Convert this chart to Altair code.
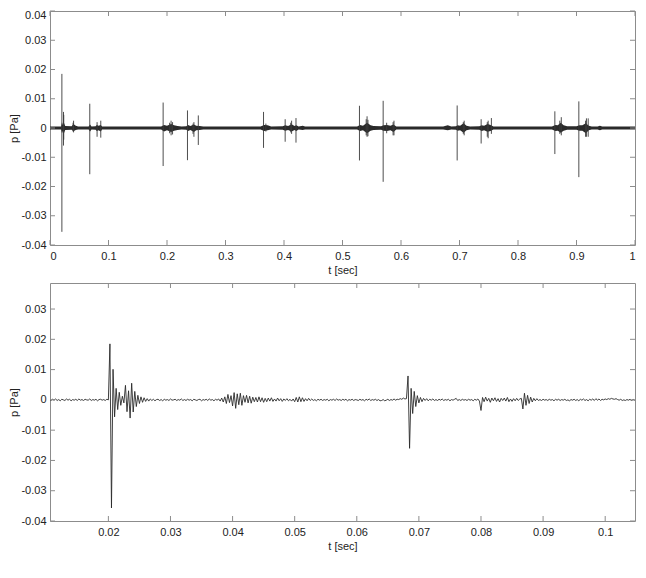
import altair as alt
import pandas as pd

UNIT = 1e-4  # all pressure values below are in units of 1e-4 Pa

# ---------- top panel (0 - 1 s overview) ----------
env_t = [0.000, 0.019, 0.0205, 0.022, 0.0235, 0.026, 0.037, 0.040, 0.044, 0.048,
         0.066, 0.0685, 0.071, 0.078, 0.080, 0.083, 0.0868, 0.089, 0.190, 0.195,
         0.200, 0.207, 0.212, 0.218, 0.225, 0.233, 0.236, 0.240, 0.246, 0.250,
         0.256, 0.262, 0.360, 0.366, 0.372, 0.378, 0.398, 0.402, 0.407, 0.413,
         0.418, 0.421, 0.425, 0.432, 0.436, 0.525, 0.530, 0.535, 0.542, 0.548,
         0.553, 0.566, 0.570, 0.576, 0.582, 0.587, 0.592, 0.672, 0.680, 0.686,
         0.694, 0.697, 0.701, 0.707, 0.712, 0.718, 0.734, 0.738, 0.742, 0.748,
         0.753, 0.758, 0.858, 0.864, 0.868, 0.873, 0.878, 0.884, 0.900, 0.905,
         0.910, 0.916, 0.921, 0.926, 0.936, 0.940, 0.944, 1.000]
env_hi = [5, 5, 20, 10, 20, 7, 6, 14, 8, 5,
          5, 12, 5, 6, 10, 8, 10, 5, 5, 10,
          8, 14, 9, 7, 5, 6, 10, 7, 12, 8,
          7, 5, 5, 10, 9, 5, 6, 9, 7, 13,
          7, 9, 5, 8, 5, 5, 10, 8, 18, 9,
          7, 6, 9, 10, 8, 12, 5, 5, 9, 5,
          6, 9, 8, 16, 8, 5, 6, 9, 8, 14,
          10, 5, 5, 10, 9, 18, 9, 6, 6, 9,
          9, 16, 8, 5, 5, 8, 5, 5]
env_lo = [-5, -5, -18, -10, -20, -7, -6, -11, -7, -5,
          -5, -12, -5, -6, -10, -8, -12, -5, -5, -12,
          -8, -14, -9, -7, -5, -6, -10, -7, -14, -8,
          -7, -5, -5, -10, -8, -5, -6, -9, -7, -12,
          -7, -10, -5, -7, -5, -5, -10, -8, -18, -9,
          -7, -6, -9, -10, -8, -14, -5, -5, -8, -5,
          -6, -9, -8, -16, -8, -5, -6, -10, -8, -13,
          -10, -5, -5, -10, -9, -16, -9, -6, -6, -9,
          -9, -18, -8, -5, -5, -8, -5, -5]

# individual spikes / strongest lines inside bursts (max, min)
spk_t = [0.0203, 0.0231, 0.0235, 0.0395, 0.0403, 0.068, 0.0805, 0.0868, 0.1934,
         0.2045, 0.207, 0.2095, 0.235, 0.2445, 0.246, 0.2535, 0.365, 0.369,
         0.402, 0.4115, 0.413, 0.4205, 0.529, 0.5405, 0.542, 0.5435, 0.5695,
         0.5755, 0.5865, 0.588, 0.696, 0.7065, 0.708, 0.737, 0.7475, 0.749,
         0.7545, 0.863, 0.8715, 0.874, 0.904, 0.9155, 0.917, 0.920]
spk_hi = [185, 55, 45, 18, 25, 83, 20, 25, 87,
          18, 25, 20, 60, 15, 20, 43, 55, 15,
          30, 18, 25, 34, 76, 30, 40, 28, 93,
          18, 20, 25, 77, 20, 25, 30, 20, 25,
          34, 57, 25, 37, 91, 25, 33, 33]
spk_lo = [-355, -60, -40, -12, -15, -158, -30, -33, -130,
          -18, -25, -22, -110, -20, -30, -58, -68, -12,
          -47, -15, -20, -50, -111, -25, -30, -28, -184,
          -18, -25, -25, -111, -20, -25, -53, -30, -35,
          -20, -89, -20, -25, -168, -30, -30, -30]

# ---------- bottom panel (zoom), sampled every 0.25 ms from 10.5 ms ----------
zoom_t0 = 0.0105
zoom_dt = 0.00025
zoom_p = [
    1, -2, 2, -1, 3, -2, 1, -3, 2, 0,
    -2, 3, -1, 2, -3, 1, -1, 2, -2, 3,
    -1, 1, -2, 2, 0, -1, 3, -2, 1, -1,
    2, -3, 1, 2, -1, 1, -2, 2, 0, 185,
    -357, 101, -56, 38, -32, 25, -18, 12, -10, 48,
    -39, 30, -60, 55, -40, 28, -22, 15, -12, 10,
    -8, 7, -5, 4, -4, 3, -2, 2, -3, 1,
    2, -2, 1, -3, 2, -1, 1, -2, 3, -1,
    0, 2, -2, 1, -1, 3, -2, 1, -2, 2,
    -1, 1, -3, 2, 0, -2, 1, 2, -3, 1,
    -1, 2, -2, 3, -1, 1, -3, 2, -1, 3,
    -4, 6, -7, 10, -12, 18, -9, 14, -20, 24,
    -28, 20, -16, 22, -18, 14, -8, 15, -10, 12,
    -11, 9, -6, 8, -7, 10, -6, 7, -8, 5,
    -6, 6, -4, 7, -5, 3, -4, 6, -3, 4,
    -5, 3, -2, 4, -3, 2, -4, 3, -6, 8,
    -7, 10, -6, 7, -5, 4, -3, 5, -2, 3,
    -2, 1, -3, 2, -1, 2, -2, 1, -1, 2,
    -3, 1, -1, 2, -2, 3, -1, 1, -2, 2,
    -1, 2, -3, 1, -1, 2, -2, 1, 0, -2,
    2, -1, 1, -3, 2, -1, 3, -2, 1, -1,
    2, -2, 1, -3, -2, 1, -3, -1, 2, -2,
    1, -1, 3, -1, 2, 1, 4, 2, 6, 3,
    4, 79, -160, 38, -45, 28, -22, 14, -10, 8,
    -6, 5, -2, 4, -3, 2, -1, 3, -2, 1,
    -2, 2, -1, 3, -2, 1, -1, 2, -3, 1,
    -1, 2, 5, -2, 1, -2, 2, -1, 1, -2,
    2, -1, 1, -3, 2, -1, 3, -4, -35, 8,
    -6, 9, -4, 5, -8, 6, -3, 7, -5, 4,
    -7, 5, -2, 6, -4, 8, -6, 3, -5, 4,
    -3, 5, -2, 3, 5, -30, 22, -18, 15, -12,
    9, -7, 5, -3, 4, -2, 1, -2, 2, -1,
    1, -2, 2, -1, 1, -3, 2, -1, 2, -2,
    1, -1, 2, -2, 0, -3, 1, -1, 2, -2,
    1, -3, 2, -1, 3, -2, 1, -3, 2, -1,
    3, -2, 4, -1, 3, -2, 2, 0, 3, 1,
    4, 2, 5, 3, 2, 4, 1, -1, 2, -2,
    0, -2, 1, -1, 2, -2, 1, -1, 2,
]

top_xticks = [0, 0.1, 0.2, 0.3, 0.4, 0.5, 0.6, 0.7, 0.8, 0.9, 1]
top_yticks = [-0.04, -0.03, -0.02, -0.01, 0, 0.01, 0.02, 0.03, 0.04]
top_xdom = [0, 1]
top_ydom = [-0.04, 0.04]
bot_xticks = [0.02, 0.03, 0.04, 0.05, 0.06, 0.07, 0.08, 0.09, 0.1]
bot_yticks = [-0.04, -0.03, -0.02, -0.01, 0, 0.01, 0.02, 0.03]
bot_xdom = [0.0106, 0.1048]
bot_ydom = [-0.04, 0.0386]

env_df = pd.DataFrame({"t": env_t,
                       "hi": [v * UNIT for v in env_hi],
                       "lo": [v * UNIT for v in env_lo]})
spk_df = pd.DataFrame({"t": spk_t,
                       "hi": [v * UNIT for v in spk_hi],
                       "lo": [v * UNIT for v in spk_lo]})
zoom_df = pd.DataFrame({"t": [zoom_t0 + zoom_dt * i for i in range(len(zoom_p))],
                        "p": [v * UNIT for v in zoom_p]})

W = 585
H1 = 234
H2 = 238
TL = 5
FRAME = "#8c8c8c"
TRACE = "#2a2a2a"
LAB = "datum.value < 0 ? '-' + format(-datum.value, '~g') : format(datum.value, '~g')"


def xaxis(vals):
    return alt.Axis(values=vals, labelExpr=LAB, ticks=False, tickSize=0,
                    domain=False, grid=False, title="t [sec]",
                    labelPadding=5, titlePadding=3)


def yaxis(vals, shift_top):
    kw = {}
    if shift_top:
        kw["labelOffset"] = {"condition": {"test": "datum.value > 0.035", "value": 4},
                             "value": 0}
    return alt.Axis(values=vals, labelExpr=LAB, ticks=False, tickSize=0,
                    domain=False, grid=False, title="p [Pa]",
                    labelPadding=4, titlePadding=1, **kw)


def tick_layers(xs, ys, xax, yax, xt, yt, H):
    xdf = pd.DataFrame({"t": xt})
    ydf = pd.DataFrame({"p": yt})
    out = []
    for y0, y1 in [(H, H - TL), (0, TL)]:
        out.append(alt.Chart(xdf).mark_rule(color=FRAME, strokeWidth=1).encode(
            x=alt.X("t:Q", scale=xs, axis=xax),
            y=alt.value(y0), y2=alt.value(y1)))
    for x0, x1 in [(0, TL), (W, W - TL)]:
        out.append(alt.Chart(ydf).mark_rule(color=FRAME, strokeWidth=1).encode(
            y=alt.Y("p:Q", scale=ys, axis=yax),
            x=alt.value(x0), x2=alt.value(x1)))
    return out


xs1 = alt.Scale(domain=top_xdom, nice=False, zero=False)
ys1 = alt.Scale(domain=top_ydom, nice=False, zero=False)
xa1 = xaxis(top_xticks)
ya1 = yaxis(top_yticks, True)
band = alt.Chart(env_df).mark_area(color=TRACE, opacity=1).encode(
    x=alt.X("t:Q", scale=xs1, axis=xa1),
    y=alt.Y("lo:Q", scale=ys1, axis=ya1),
    y2="hi:Q")
spikes = alt.Chart(spk_df).mark_rule(color="#3a3a3a", strokeWidth=0.9).encode(
    x=alt.X("t:Q", scale=xs1, axis=xa1),
    y=alt.Y("lo:Q", scale=ys1, axis=ya1),
    y2="hi:Q")
top = alt.layer(band, spikes, *tick_layers(xs1, ys1, xa1, ya1, top_xticks, top_yticks, H1)).properties(
    width=W, height=H1)

xs2 = alt.Scale(domain=bot_xdom, nice=False, zero=False)
ys2 = alt.Scale(domain=bot_ydom, nice=False, zero=False)
xa2 = xaxis(bot_xticks)
ya2 = yaxis(bot_yticks, False)
trace = alt.Chart(zoom_df).mark_line(color=TRACE, strokeWidth=0.9, clip=True).encode(
    x=alt.X("t:Q", scale=xs2, axis=xa2),
    y=alt.Y("p:Q", scale=ys2, axis=ya2))
bottom = alt.layer(trace, *tick_layers(xs2, ys2, xa2, ya2, bot_xticks, bot_yticks, H2)).properties(
    width=W, height=H2)

chart = alt.vconcat(top, bottom, spacing=6).properties(padding=0).configure_view(
    stroke=FRAME, strokeWidth=1
).configure_axis(
    labelFont="Liberation Sans", labelFontSize=11, labelColor="#222222",
    titleFont="Liberation Sans", titleFontSize=11, titleFontWeight="normal",
    titleColor="#222222"
)

chart.save("out.html", embed_options={"renderer": "svg", "actions": False})
